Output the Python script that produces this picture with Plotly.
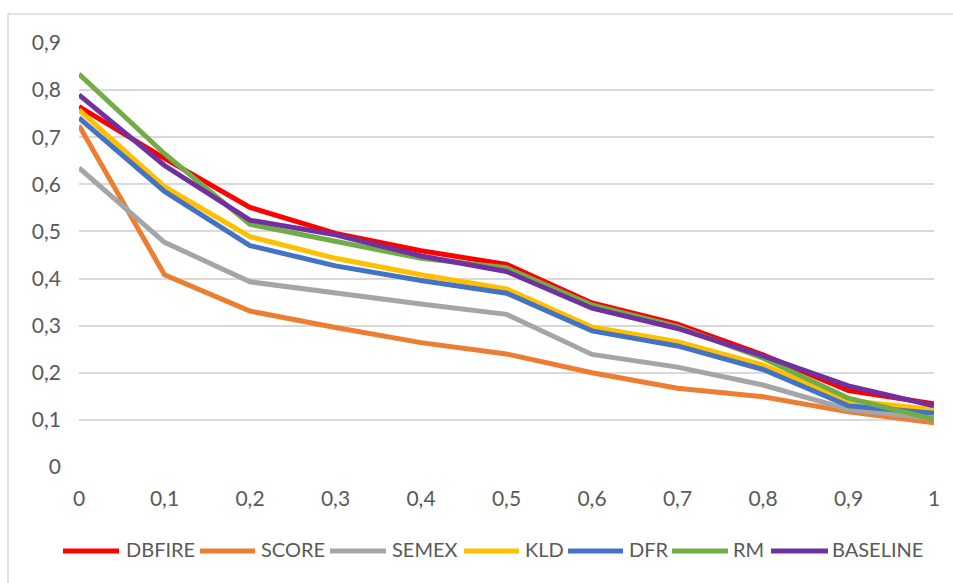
import plotly.graph_objects as go

# Thresholds on the x axis
x_values = [0, 0.1, 0.2, 0.3, 0.4, 0.5, 0.6, 0.7, 0.8, 0.9, 1]
x_labels = ["0", "0,1", "0,2", "0,3", "0,4", "0,5", "0,6", "0,7", "0,8", "0,9", "1"]

dbfire = [0.765, 0.655, 0.551, 0.496, 0.459, 0.430, 0.348, 0.303, 0.238, 0.162, 0.134]
score = [0.725, 0.408, 0.331, 0.296, 0.264, 0.240, 0.200, 0.167, 0.149, 0.117, 0.094]
semex = [0.635, 0.477, 0.393, 0.369, 0.346, 0.324, 0.239, 0.212, 0.174, 0.122, 0.103]
kld = [0.758, 0.595, 0.489, 0.443, 0.408, 0.378, 0.297, 0.266, 0.217, 0.141, 0.122]
dfr = [0.741, 0.585, 0.470, 0.427, 0.396, 0.369, 0.289, 0.257, 0.207, 0.130, 0.114]
rm = [0.834, 0.665, 0.515, 0.478, 0.443, 0.423, 0.344, 0.298, 0.231, 0.146, 0.101]
baseline = [0.790, 0.640, 0.524, 0.493, 0.448, 0.415, 0.337, 0.294, 0.236, 0.172, 0.130]

y_ticks = [0, 0.1, 0.2, 0.3, 0.4, 0.5, 0.6, 0.7, 0.8, 0.9]
y_labels = ["0", "0,1", "0,2", "0,3", "0,4", "0,5", "0,6", "0,7", "0,8", "0,9"]

series = [
    ("DBFIRE", dbfire, "#FF0000"),
    ("SCORE", score, "#ED7D31"),
    ("SEMEX", semex, "#A5A5A5"),
    ("KLD", kld, "#FFC000"),
    ("DFR", dfr, "#4472C4"),
    ("RM", rm, "#70AD47"),
    ("BASELINE", baseline, "#7030A0"),
]

# Figure geometry (pixels)
W, H = 953, 583
L, R, T, B = 79, 19, 43, 116
PW, PH = W - L - R, H - T - B


def px_x(px):
    return (px - L) / PW


def px_y(py):
    return (H - B - py) / PH


fig = go.Figure()
for name, vals, color in series:
    fig.add_trace(go.Scatter(
        x=x_values, y=vals, name=name, mode="lines",
        line=dict(color=color, width=5),
        showlegend=False,
    ))

font_family = "Lato, sans-serif"
text_color = "#595959"

fig.update_layout(
    width=W, height=H,
    margin=dict(l=L, r=R, t=T, b=B),
    paper_bgcolor="white", plot_bgcolor="white",
    font=dict(family=font_family, size=20, color=text_color),
    xaxis=dict(
        range=[0, 1], tickvals=x_values, ticktext=x_labels,
        showgrid=False, zeroline=False, showline=False,
        ticks="", ticklabelstandoff=17,
        tickfont=dict(size=21, color=text_color),
    ),
    yaxis=dict(
        range=[0, 0.9], tickvals=y_ticks, ticktext=y_labels,
        showgrid=True, gridcolor="#D9D9D9", gridwidth=2,
        zeroline=False, showline=False, ticks="", ticklabelstandoff=17,
        tickfont=dict(size=21, color=text_color),
    ),
    showlegend=False,
)

# Legend row below the plot: line sample start/end and label start (px)
legend_slots = [(63, 119, 124), (200, 255, 259), (330, 386, 390), (464, 519, 523),
                (568, 623, 627), (672, 728, 731), (771, 828, 830)]
legend_y = 551
for (name, _, color), (lx0, lx1, tx) in zip(series, legend_slots):
    fig.add_shape(type="line", xref="paper", yref="paper",
                  x0=px_x(lx0), x1=px_x(lx1), y0=px_y(legend_y), y1=px_y(legend_y),
                  line=dict(color=color, width=5))
    fig.add_annotation(xref="paper", yref="paper", x=px_x(tx), y=px_y(legend_y - 2),
                       text=name, showarrow=False, xanchor="left", yanchor="middle",
                       font=dict(family=font_family, size=20, color=text_color))

# Chart frame (top and left edges)
fig.add_shape(type="line", xref="paper", yref="paper",
              x0=px_x(8), x1=px_x(960), y0=px_y(14), y1=px_y(14),
              line=dict(color="#D9D9D9", width=1.5))
fig.add_shape(type="line", xref="paper", yref="paper",
              x0=px_x(8), x1=px_x(8), y0=px_y(14), y1=px_y(590),
              line=dict(color="#D9D9D9", width=1.5))

fig.write_html("out.html")
